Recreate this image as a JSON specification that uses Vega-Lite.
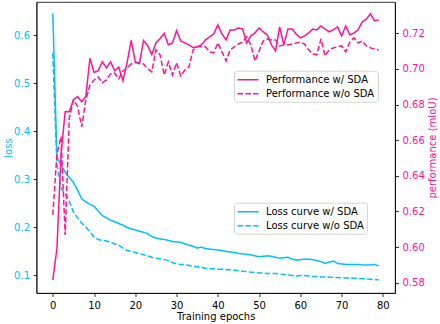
{
  "$schema": "https://vega.github.io/schema/vega-lite/v6.json",
  "autosize": {"type": "none"},
  "width": 358.5,
  "height": 291,
  "padding": {"left": 36.5, "top": 2, "right": 45, "bottom": 31},
  "background": "white",
  "config": {
    "font": "DejaVu Sans",
    "view": {"stroke": "black", "strokeWidth": 0.8},
    "axis": {
      "grid": false,
      "domainColor": "black", "domainWidth": 0.8,
      "tickColor": "black", "tickWidth": 0.8, "tickSize": 3.5,
      "labelPadding": 3.5, "labelFontSize": 10, "labelFont": "DejaVu Sans",
      "titleFontSize": 10, "titleFontWeight": "normal", "titleFont": "DejaVu Sans"
    },
    "legend": {
      "labelFontSize": 10, "labelFont": "DejaVu Sans", "labelColor": "black",
      "strokeColor": "#d4d4d4", "fillColor": "white", "cornerRadius": 3,
      "padding": 3, "rowPadding": 3,
      "symbolType": "M-2,0H2", "symbolSize": 110, "symbolStrokeWidth": 1.5,
      "symbolOffset": 5, "labelOffset": 12
    }
  },
  "data": {"values": [
    {"epoch":0,"Loss curve w/ SDA":0.645,"Loss curve w/o SDA":0.562,"Performance w/ SDA":0.5815,"Performance w/o SDA":0.618},
    {"epoch":1,"Loss curve w/ SDA":0.345,"Loss curve w/o SDA":0.33,"Performance w/ SDA":0.599,"Performance w/o SDA":0.652},
    {"epoch":2,"Loss curve w/ SDA":0.329,"Loss curve w/o SDA":0.281,"Performance w/ SDA":0.652,"Performance w/o SDA":0.662},
    {"epoch":3,"Loss curve w/ SDA":0.314,"Loss curve w/o SDA":0.269,"Performance w/ SDA":0.676,"Performance w/o SDA":0.6068},
    {"epoch":4,"Loss curve w/ SDA":0.303,"Loss curve w/o SDA":0.254,"Performance w/ SDA":0.676,"Performance w/o SDA":0.6725},
    {"epoch":5,"Loss curve w/ SDA":0.293,"Loss curve w/o SDA":0.231,"Performance w/ SDA":0.6826,"Performance w/o SDA":0.6826},
    {"epoch":6,"Loss curve w/ SDA":0.277,"Loss curve w/o SDA":0.219,"Performance w/ SDA":0.6845,"Performance w/o SDA":0.679},
    {"epoch":7,"Loss curve w/ SDA":0.259,"Loss curve w/o SDA":0.208,"Performance w/ SDA":0.6816,"Performance w/o SDA":0.6675},
    {"epoch":8,"Loss curve w/ SDA":0.252,"Loss curve w/o SDA":0.2,"Performance w/ SDA":0.6845,"Performance w/o SDA":0.6826},
    {"epoch":9,"Loss curve w/ SDA":0.247,"Loss curve w/o SDA":0.19,"Performance w/ SDA":0.706,"Performance w/o SDA":0.691},
    {"epoch":10,"Loss curve w/ SDA":0.243,"Loss curve w/o SDA":0.179,"Performance w/ SDA":0.698,"Performance w/o SDA":0.6938},
    {"epoch":11,"Loss curve w/ SDA":0.233,"Loss curve w/o SDA":0.174,"Performance w/ SDA":0.699,"Performance w/o SDA":0.6955},
    {"epoch":12,"Loss curve w/ SDA":0.224,"Loss curve w/o SDA":0.172,"Performance w/ SDA":0.704,"Performance w/o SDA":0.6922},
    {"epoch":13,"Loss curve w/ SDA":0.219,"Loss curve w/o SDA":0.171,"Performance w/ SDA":0.7006,"Performance w/o SDA":0.6938},
    {"epoch":14,"Loss curve w/ SDA":0.214,"Loss curve w/o SDA":0.168,"Performance w/ SDA":0.704,"Performance w/o SDA":0.6972},
    {"epoch":15,"Loss curve w/ SDA":0.211,"Loss curve w/o SDA":0.165,"Performance w/ SDA":0.699,"Performance w/o SDA":0.6977},
    {"epoch":16,"Loss curve w/ SDA":0.207,"Loss curve w/o SDA":0.162,"Performance w/ SDA":0.701,"Performance w/o SDA":0.6944},
    {"epoch":17,"Loss curve w/ SDA":0.204,"Loss curve w/o SDA":0.156,"Performance w/ SDA":0.6933,"Performance w/o SDA":0.6989},
    {"epoch":18,"Loss curve w/ SDA":0.199,"Loss curve w/o SDA":0.151,"Performance w/ SDA":0.7034,"Performance w/o SDA":0.7005},
    {"epoch":19,"Loss curve w/ SDA":0.196,"Loss curve w/o SDA":0.149,"Performance w/ SDA":0.716,"Performance w/o SDA":0.7028},
    {"epoch":20,"Loss curve w/ SDA":0.194,"Loss curve w/o SDA":0.147,"Performance w/ SDA":0.704,"Performance w/o SDA":0.7034},
    {"epoch":21,"Loss curve w/ SDA":0.191,"Loss curve w/o SDA":0.144,"Performance w/ SDA":0.703,"Performance w/o SDA":0.7034},
    {"epoch":22,"Loss curve w/ SDA":0.189,"Loss curve w/o SDA":0.142,"Performance w/ SDA":0.716,"Performance w/o SDA":0.7028},
    {"epoch":23,"Loss curve w/ SDA":0.186,"Loss curve w/o SDA":0.14,"Performance w/ SDA":0.713,"Performance w/o SDA":0.7},
    {"epoch":24,"Loss curve w/ SDA":0.18,"Loss curve w/o SDA":0.137,"Performance w/ SDA":0.708,"Performance w/o SDA":0.6983},
    {"epoch":25,"Loss curve w/ SDA":0.177,"Loss curve w/o SDA":0.135,"Performance w/ SDA":0.7146,"Performance w/o SDA":0.7107},
    {"epoch":26,"Loss curve w/ SDA":0.175,"Loss curve w/o SDA":0.134,"Performance w/ SDA":0.717,"Performance w/o SDA":0.7079},
    {"epoch":27,"Loss curve w/ SDA":0.174,"Loss curve w/o SDA":0.132,"Performance w/ SDA":0.72,"Performance w/o SDA":0.6966},
    {"epoch":28,"Loss curve w/ SDA":0.172,"Loss curve w/o SDA":0.13,"Performance w/ SDA":0.7135,"Performance w/o SDA":0.7039},
    {"epoch":29,"Loss curve w/ SDA":0.17,"Loss curve w/o SDA":0.126,"Performance w/ SDA":0.7146,"Performance w/o SDA":0.6966},
    {"epoch":30,"Loss curve w/ SDA":0.169,"Loss curve w/o SDA":0.123,"Performance w/ SDA":0.7215,"Performance w/o SDA":0.7034},
    {"epoch":31,"Loss curve w/ SDA":0.168,"Loss curve w/o SDA":0.122,"Performance w/ SDA":0.7157,"Performance w/o SDA":0.6961},
    {"epoch":32,"Loss curve w/ SDA":0.165,"Loss curve w/o SDA":0.122,"Performance w/ SDA":0.7146,"Performance w/o SDA":0.6994},
    {"epoch":33,"Loss curve w/ SDA":0.162,"Loss curve w/o SDA":0.12,"Performance w/ SDA":0.7135,"Performance w/o SDA":0.7011},
    {"epoch":34,"Loss curve w/ SDA":0.16,"Loss curve w/o SDA":0.118,"Performance w/ SDA":0.712,"Performance w/o SDA":0.7107},
    {"epoch":35,"Loss curve w/ SDA":0.156,"Loss curve w/o SDA":0.117,"Performance w/ SDA":0.7124,"Performance w/o SDA":0.7124},
    {"epoch":36,"Loss curve w/ SDA":0.158,"Loss curve w/o SDA":0.116,"Performance w/ SDA":0.7135,"Performance w/o SDA":0.7124},
    {"epoch":37,"Loss curve w/ SDA":0.155,"Loss curve w/o SDA":0.114,"Performance w/ SDA":0.7163,"Performance w/o SDA":0.7124},
    {"epoch":38,"Loss curve w/ SDA":0.154,"Loss curve w/o SDA":0.113,"Performance w/ SDA":0.718,"Performance w/o SDA":0.7096},
    {"epoch":39,"Loss curve w/ SDA":0.153,"Loss curve w/o SDA":0.113,"Performance w/ SDA":0.7196,"Performance w/o SDA":0.709},
    {"epoch":40,"Loss curve w/ SDA":0.152,"Loss curve w/o SDA":0.112,"Performance w/ SDA":0.7247,"Performance w/o SDA":0.7146},
    {"epoch":41,"Loss curve w/ SDA":0.151,"Loss curve w/o SDA":0.112,"Performance w/ SDA":0.7196,"Performance w/o SDA":0.7096},
    {"epoch":42,"Loss curve w/ SDA":0.149,"Loss curve w/o SDA":0.111,"Performance w/ SDA":0.7163,"Performance w/o SDA":0.7045},
    {"epoch":43,"Loss curve w/ SDA":0.148,"Loss curve w/o SDA":0.111,"Performance w/ SDA":0.7219,"Performance w/o SDA":0.7107},
    {"epoch":44,"Loss curve w/ SDA":0.147,"Loss curve w/o SDA":0.11,"Performance w/ SDA":0.7219,"Performance w/o SDA":0.7124},
    {"epoch":45,"Loss curve w/ SDA":0.145,"Loss curve w/o SDA":0.109,"Performance w/ SDA":0.723,"Performance w/o SDA":0.714},
    {"epoch":46,"Loss curve w/ SDA":0.144,"Loss curve w/o SDA":0.108,"Performance w/ SDA":0.7225,"Performance w/o SDA":0.7151},
    {"epoch":47,"Loss curve w/ SDA":0.143,"Loss curve w/o SDA":0.107,"Performance w/ SDA":0.7146,"Performance w/o SDA":0.718},
    {"epoch":48,"Loss curve w/ SDA":0.142,"Loss curve w/o SDA":0.106,"Performance w/ SDA":0.7185,"Performance w/o SDA":0.7135},
    {"epoch":49,"Loss curve w/ SDA":0.14,"Loss curve w/o SDA":0.105,"Performance w/ SDA":0.7202,"Performance w/o SDA":0.7045},
    {"epoch":50,"Loss curve w/ SDA":0.138,"Loss curve w/o SDA":0.104,"Performance w/ SDA":0.723,"Performance w/o SDA":0.7101},
    {"epoch":51,"Loss curve w/ SDA":0.139,"Loss curve w/o SDA":0.104,"Performance w/ SDA":0.7208,"Performance w/o SDA":0.7157},
    {"epoch":52,"Loss curve w/ SDA":0.14,"Loss curve w/o SDA":0.103,"Performance w/ SDA":0.7191,"Performance w/o SDA":0.7168},
    {"epoch":53,"Loss curve w/ SDA":0.139,"Loss curve w/o SDA":0.103,"Performance w/ SDA":0.7135,"Performance w/o SDA":0.7163},
    {"epoch":54,"Loss curve w/ SDA":0.137,"Loss curve w/o SDA":0.103,"Performance w/ SDA":0.7101,"Performance w/o SDA":0.7163},
    {"epoch":55,"Loss curve w/ SDA":0.135,"Loss curve w/o SDA":0.102,"Performance w/ SDA":0.7236,"Performance w/o SDA":0.7129},
    {"epoch":56,"Loss curve w/ SDA":0.136,"Loss curve w/o SDA":0.101,"Performance w/ SDA":0.7135,"Performance w/o SDA":0.7135},
    {"epoch":57,"Loss curve w/ SDA":0.137,"Loss curve w/o SDA":0.1,"Performance w/ SDA":0.7224,"Performance w/o SDA":0.7135},
    {"epoch":58,"Loss curve w/ SDA":0.133,"Loss curve w/o SDA":0.099,"Performance w/ SDA":0.7224,"Performance w/o SDA":0.714},
    {"epoch":59,"Loss curve w/ SDA":0.131,"Loss curve w/o SDA":0.098,"Performance w/ SDA":0.7196,"Performance w/o SDA":0.7146},
    {"epoch":60,"Loss curve w/ SDA":0.132,"Loss curve w/o SDA":0.099,"Performance w/ SDA":0.7174,"Performance w/o SDA":0.7151},
    {"epoch":61,"Loss curve w/ SDA":0.133,"Loss curve w/o SDA":0.099,"Performance w/ SDA":0.7185,"Performance w/o SDA":0.714},
    {"epoch":62,"Loss curve w/ SDA":0.133,"Loss curve w/o SDA":0.098,"Performance w/ SDA":0.7202,"Performance w/o SDA":0.7107},
    {"epoch":63,"Loss curve w/ SDA":0.132,"Loss curve w/o SDA":0.097,"Performance w/ SDA":0.7224,"Performance w/o SDA":0.7084},
    {"epoch":64,"Loss curve w/ SDA":0.13,"Loss curve w/o SDA":0.097,"Performance w/ SDA":0.7219,"Performance w/o SDA":0.7079},
    {"epoch":65,"Loss curve w/ SDA":0.128,"Loss curve w/o SDA":0.096,"Performance w/ SDA":0.7241,"Performance w/o SDA":0.7168},
    {"epoch":66,"Loss curve w/ SDA":0.124,"Loss curve w/o SDA":0.096,"Performance w/ SDA":0.7224,"Performance w/o SDA":0.7073},
    {"epoch":67,"Loss curve w/ SDA":0.127,"Loss curve w/o SDA":0.096,"Performance w/ SDA":0.7208,"Performance w/o SDA":0.7107},
    {"epoch":68,"Loss curve w/ SDA":0.129,"Loss curve w/o SDA":0.095,"Performance w/ SDA":0.7219,"Performance w/o SDA":0.7118},
    {"epoch":69,"Loss curve w/ SDA":0.124,"Loss curve w/o SDA":0.095,"Performance w/ SDA":0.7236,"Performance w/o SDA":0.7124},
    {"epoch":70,"Loss curve w/ SDA":0.123,"Loss curve w/o SDA":0.094,"Performance w/ SDA":0.7185,"Performance w/o SDA":0.7129},
    {"epoch":71,"Loss curve w/ SDA":0.122,"Loss curve w/o SDA":0.094,"Performance w/ SDA":0.7241,"Performance w/o SDA":0.7096},
    {"epoch":72,"Loss curve w/ SDA":0.122,"Loss curve w/o SDA":0.094,"Performance w/ SDA":0.7191,"Performance w/o SDA":0.7151},
    {"epoch":73,"Loss curve w/ SDA":0.122,"Loss curve w/o SDA":0.093,"Performance w/ SDA":0.7202,"Performance w/o SDA":0.7174},
    {"epoch":74,"Loss curve w/ SDA":0.122,"Loss curve w/o SDA":0.093,"Performance w/ SDA":0.7219,"Performance w/o SDA":0.7146},
    {"epoch":75,"Loss curve w/ SDA":0.121,"Loss curve w/o SDA":0.092,"Performance w/ SDA":0.7264,"Performance w/o SDA":0.7157},
    {"epoch":76,"Loss curve w/ SDA":0.121,"Loss curve w/o SDA":0.092,"Performance w/ SDA":0.728,"Performance w/o SDA":0.7129},
    {"epoch":77,"Loss curve w/ SDA":0.121,"Loss curve w/o SDA":0.091,"Performance w/ SDA":0.7309,"Performance w/o SDA":0.7118},
    {"epoch":78,"Loss curve w/ SDA":0.122,"Loss curve w/o SDA":0.09,"Performance w/ SDA":0.727,"Performance w/o SDA":0.7112},
    {"epoch":79,"Loss curve w/ SDA":0.119,"Loss curve w/o SDA":0.09,"Performance w/ SDA":0.7275,"Performance w/o SDA":0.7107}
  ]},
  "encoding": {
    "x": {
      "field": "epoch", "type": "quantitative",
      "scale": {"domain": [-3.95, 82.95], "nice": false, "zero": false},
      "axis": {"values": [0,10,20,30,40,50,60,70,80], "title": "Training epochs", "titlePadding": 1, "labelFlush": false}
    }
  },
  "layer": [
    {
      "transform": [{"fold": ["Loss curve w/ SDA", "Loss curve w/o SDA"], "as": ["lossSeries", "loss"]}],
      "mark": {"type": "line", "color": "#00bfff", "strokeWidth": 1.5},
      "encoding": {
        "y": {
          "field": "loss", "type": "quantitative",
          "scale": {"domain": [0.0625, 0.66875], "nice": false, "zero": false},
          "axis": {"orient": "left", "title": "loss", "values": [0.1,0.2,0.3,0.4,0.5,0.6], "format": ".1f", "labelColor": "#00bfff", "titleColor": "#00bfff", "titlePadding": 0, "labelFlush": false}
        },
        "strokeDash": {
          "field": "lossSeries", "type": "nominal",
          "scale": {"domain": ["Loss curve w/ SDA", "Loss curve w/o SDA"], "range": [[1,0],[5.5,2.4]]},
          "legend": {"title": null, "orient": "none", "legendX": 197.5, "legendY": 200.7, "symbolStrokeColor": "#00bfff"}
        }
      }
    },
    {
      "transform": [{"fold": ["Performance w/ SDA", "Performance w/o SDA"], "as": ["perfSeries", "perf"]}],
      "mark": {"type": "line", "color": "#ff1493", "strokeWidth": 1.5},
      "encoding": {
        "y": {
          "field": "perf", "type": "quantitative",
          "scale": {"domain": [0.57422, 0.73757], "nice": false, "zero": false},
          "axis": {"orient": "right", "title": "performance (mIoU)", "values": [0.58,0.6,0.62,0.64,0.66,0.68,0.7,0.72], "format": ".2f", "labelColor": "#ff1493", "titleColor": "#ff1493", "titleAngle": 270, "titlePadding": 13, "labelFlush": false}
        },
        "strokeDash": {
          "field": "perfSeries", "type": "nominal",
          "scale": {"domain": ["Performance w/ SDA", "Performance w/o SDA"], "range": [[1,0],[5.5,2.4]]},
          "legend": {"title": null, "orient": "none", "legendX": 197.5, "legendY": 68.7, "symbolStrokeColor": "#ff1493"}
        }
      }
    }
  ],
  "resolve": {
    "scale": {"y": "independent", "strokeDash": "independent"},
    "axis": {"y": "independent"},
    "legend": {"strokeDash": "independent"}
  }
}
